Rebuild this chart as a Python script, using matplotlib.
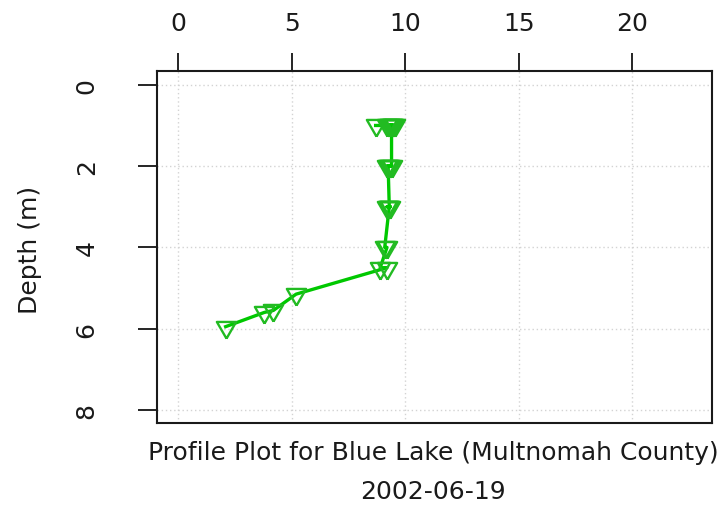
import matplotlib
matplotlib.use("Agg")
import matplotlib.pyplot as plt

# Data (value vs. depth)
depth_m = [1.0, 1.0, 1.0, 1.0, 1.0, 1.0, 1.0, 1.0, 1.0,
           2.0, 2.0, 2.0, 2.0, 2.0,
           3.0, 3.0, 3.0, 3.0, 3.0,
           4.0, 4.0, 4.5, 4.5, 5.15, 5.55, 5.6, 5.95]
values = [8.7, 9.5, 9.3, 9.45, 9.2, 9.4, 9.35, 9.55, 9.4,
          9.4, 9.2, 9.35, 9.3, 9.25,
          9.3, 9.2, 9.35, 9.25, 9.3,
          9.1, 9.2, 8.9, 9.2, 5.2, 4.2, 3.8, 2.1]

x_ticks = [0, 5, 10, 15, 20]
y_ticks = [0, 2, 4, 6, 8]
title_line1 = "Profile Plot for Blue Lake (Multnomah County)"
title_line2 = "2002-06-19"
y_label = "Depth (m)"

plt.rcParams['font.family'] = ['DejaVu Sans']

fig = plt.figure(figsize=(7.21, 5.06), dpi=100)
ax = fig.add_axes([157/721, 1-424/506, (712-157)/721, (424-72)/506])

# R-style triangle (pch = 6), centroid at the point
tri = [(0, -2), (1.732, 1), (-1.732, 1), (0, -2)]

ax.plot(values, depth_m, color='#00C800', lw=2.4, marker=tri, markersize=16,
        markerfacecolor='none', markeredgecolor='#22BB22', markeredgewidth=1.7,
        zorder=3)

ax.set_xlim(-0.92, 23.5)
ax.set_ylim(8.32, -0.34)

ax.set_xticks(x_ticks)
ax.set_yticks(y_ticks)
ax.grid(True, color='#D3D3D3', linestyle=(0, (1, 2)), lw=1.0)
ax.set_axisbelow(True)

ax.xaxis.tick_top()
ax.tick_params(axis='x', which='both', top=True, bottom=False, length=13,
               width=1.2, labelsize=18, pad=13, labelcolor='#1a1a1a')
ax.tick_params(axis='y', length=14, width=1.2, labelsize=18, pad=28,
               labelcolor='#1a1a1a')
for lab in ax.get_yticklabels():
    lab.set_rotation(90)
    lab.set_va('center')

for s in ax.spines.values():
    s.set_linewidth(1.5)
    s.set_color('#1a1a1a')

fig.text(30/721, 1-250/506, y_label, rotation=90, ha='center', va='center',
         fontsize=18, color='#1a1a1a')
fig.text(433/721, 1-453/506, title_line1, ha='center', va='center',
         fontsize=18, color='#1a1a1a')
fig.text(433/721, 1-492/506, title_line2, ha='center', va='center',
         fontsize=18, color='#1a1a1a')

fig.savefig("out.png", dpi=100)
